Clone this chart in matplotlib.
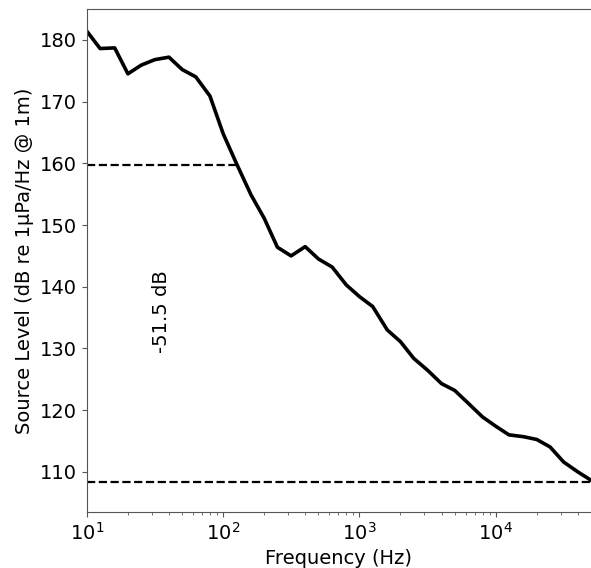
import matplotlib
matplotlib.use("Agg")
from matplotlib import pyplot as plt
import numpy as np

# 1/3 octave band centre frequencies (Hz)
freqs = [10, 12.5, 16, 20, 25, 31.5, 40, 50, 63, 80,
         100, 125, 160, 200, 250, 315, 400, 500, 630, 800,
         1000, 1250, 1600, 2000, 2500, 3150, 4000, 5000, 6300, 8000,
         10000, 12500, 16000, 20000, 25000, 31500, 40000, 50000]

# source level (dB re 1uPa/Hz @ 1m)
levels = [181.4, 178.6, 178.7, 174.5, 175.9, 176.8, 177.2, 175.2, 174.0, 170.9,
          164.8, 160.0, 154.9, 151.1, 146.4, 145.0, 146.5, 144.5, 143.2, 140.3,
          138.4, 136.8, 133.0, 131.1, 128.4, 126.5, 124.3, 123.2, 121.1, 118.9,
          117.4, 116.0, 115.7, 115.25, 114.05, 111.6, 110.0, 108.65]

upper_x = [10, 125]
upper_y = [159.8, 159.8]
lower_x = [10, 50000]
lower_y = [108.3, 108.3]
diff_label = "-51.5 dB"

fig = plt.figure(figsize=(5.91, 5.68), dpi=100)
ax = fig.add_axes([0.147, 0.0986, 0.853, 0.8855])

ax.plot(freqs, levels, color="black", lw=2.6)
ax.plot(upper_x, upper_y, "--", color="black", lw=1.6)
ax.plot(lower_x, lower_y, "--", color="black", lw=1.6)
ax.text(35, 136, diff_label, rotation=90, fontsize=14, ha="center", va="center")

ax.set_xscale("log")
ax.set_xlim(10, 50000)
ax.set_ylim(103.5, 185)
ax.spines["right"].set_visible(False)
for s in ax.spines.values():
    s.set_color("#555555")
ax.tick_params(labelsize=14, color="#555555")
ax.tick_params(which="minor", color="#555555")
ax.set_xlabel("Frequency (Hz)", fontsize=14)
ax.set_ylabel("Source Level (dB re 1µPa/Hz @ 1m)", fontsize=14)

fig.savefig("out.png", dpi=100)
